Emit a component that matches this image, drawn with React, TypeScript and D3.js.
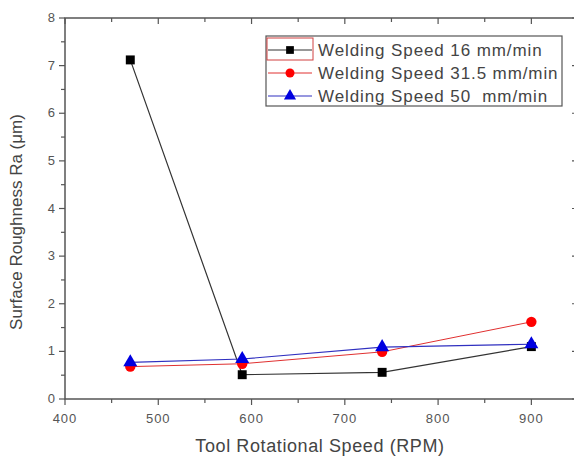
import React, { useEffect, useRef } from 'react';
import * as d3 from 'd3';

const rpm = [470, 590, 740, 900];
const speed16 = [7.12, 0.51, 0.56, 1.1];
const speed31 = [0.68, 0.74, 0.99, 1.62];
const speed50 = [0.77, 0.84, 1.09, 1.15];
const seriesNames = ['Welding Speed 16 mm/min', 'Welding Speed 31.5 mm/min', 'Welding Speed 50  mm/min'];
const xTicks = [400, 500, 600, 700, 800, 900];
const yTicks = [0, 1, 2, 3, 4, 5, 6, 7, 8];

const App = () => {
  const ref = useRef<SVGSVGElement>(null);
  const width = 574;
  const height = 459;

  useEffect(() => {
    const svg = d3.select(ref.current);
    svg.selectAll('*').remove();

    const x = d3.scaleLinear().domain([400, 950]).range([65, 578]);
    const y = d3.scaleLinear().domain([0, 8]).range([399, 18]);
    const axisColor = '#555';
    const font = 'Liberation Sans, Arial, sans-serif';

    // frame
    svg.append('rect')
      .attr('x', x(400)).attr('y', y(8))
      .attr('width', x(950) - x(400)).attr('height', y(0) - y(8))
      .attr('fill', 'none').attr('stroke', axisColor).attr('stroke-width', 1.5);

    // ticks: major + minor on all sides
    const minorX = d3.range(450, 950, 100);
    const minorY = d3.range(0.5, 8, 1);
    const g = svg.append('g').attr('stroke', axisColor).attr('stroke-width', 1.2);
    xTicks.concat([950]).forEach((v) => {
      g.append('line').attr('x1', x(v)).attr('x2', x(v)).attr('y1', y(0)).attr('y2', y(0) + 6);
      g.append('line').attr('x1', x(v)).attr('x2', x(v)).attr('y1', y(8)).attr('y2', y(8) + 6);
    });
    minorX.forEach((v) => {
      g.append('line').attr('x1', x(v)).attr('x2', x(v)).attr('y1', y(0)).attr('y2', y(0) + 4);
      g.append('line').attr('x1', x(v)).attr('x2', x(v)).attr('y1', y(8)).attr('y2', y(8) + 4);
    });
    yTicks.forEach((v) => {
      g.append('line').attr('x1', x(400) - 6).attr('x2', x(400)).attr('y1', y(v)).attr('y2', y(v));
      g.append('line').attr('x1', x(950) - 6).attr('x2', x(950)).attr('y1', y(v)).attr('y2', y(v));
    });
    minorY.forEach((v) => {
      g.append('line').attr('x1', x(400) - 4).attr('x2', x(400)).attr('y1', y(v)).attr('y2', y(v));
      g.append('line').attr('x1', x(950) - 4).attr('x2', x(950)).attr('y1', y(v)).attr('y2', y(v));
    });

    // tick labels
    svg.append('g').selectAll('text').data(xTicks).join('text')
      .attr('x', (d) => x(d)).attr('y', y(0) + 24)
      .attr('text-anchor', 'middle').attr('font-family', font).attr('font-size', 13)
      .attr('fill', '#555').attr('letter-spacing', 1).text((d) => d);
    svg.append('g').selectAll('text').data(yTicks).join('text')
      .attr('x', x(400) - 10).attr('y', (d) => y(d) + 4)
      .attr('text-anchor', 'end').attr('font-family', font).attr('font-size', 13)
      .attr('fill', '#555').text((d) => d);

    // axis titles
    svg.append('text')
      .attr('x', 320).attr('y', 452)
      .attr('text-anchor', 'middle').attr('font-family', font).attr('font-size', 18)
      .attr('letter-spacing', 0.6)
      .attr('fill', '#444').text('Tool Rotational Speed (RPM)');
    svg.append('text')
      .attr('transform', 'translate(22,222) rotate(-90)')
      .attr('text-anchor', 'middle').attr('font-family', font).attr('font-size', 17)
      .attr('fill', '#444').text('Surface Roughness Ra (\u03bcm)');

    const line = d3.line<number>().x((d, i) => x(rpm[i])).y((d) => y(d));
    const series = [
      { values: speed16, color: '#333', fill: '#000', shape: d3.symbolSquare, size: 80, width: 1.2 },
      { values: speed31, color: '#e03030', fill: '#f00', shape: d3.symbolCircle, size: 85, width: 1 },
      { values: speed50, color: '#3030c0', fill: '#0000e0', shape: d3.symbolTriangle, size: 85, width: 1.2 },
    ];

    series.forEach((s) => {
      svg.append('path').datum(s.values).attr('d', line)
        .attr('fill', 'none').attr('stroke', s.color).attr('stroke-width', s.width);
    });
    series.forEach((s) => {
      svg.append('g').selectAll('path').data(s.values).join('path')
        .attr('transform', (d, i) => `translate(${x(rpm[i])},${y(d)})`)
        .attr('d', d3.symbol().type(s.shape).size(s.size)())
        .attr('fill', s.fill);
    });

    // legend
    const leg = svg.append('g');
    leg.append('rect').attr('x', 266).attr('y', 36).attr('width', 296).attr('height', 70)
      .attr('fill', 'white').attr('stroke', '#555').attr('stroke-width', 1.2);
    series.forEach((s, i) => {
      const ly = 50 + i * 23;
      leg.append('line').attr('x1', 268).attr('x2', 312).attr('y1', ly).attr('y2', ly)
        .attr('stroke', s.color).attr('stroke-width', s.width);
      leg.append('path').attr('transform', `translate(290,${ly})`)
        .attr('d', d3.symbol().type(s.shape).size(s.size * 0.75)()).attr('fill', s.fill);
      leg.append('text').attr('x', 318).attr('y', ly + 6)
        .attr('font-family', font).attr('font-size', 17).attr('fill', '#444')
        .attr('letter-spacing', 0.9)
        .style('white-space', 'pre')
        .text(seriesNames[i]);
    });
    leg.append('rect').attr('x', 267).attr('y', 38).attr('width', 46).attr('height', 22)
      .attr('fill', 'none').attr('stroke', '#d04040').attr('stroke-width', 1);
  });

  return (
    <svg ref={ref} width={width} height={height}
      style={{ position: 'absolute', left: 0, top: 0, background: 'white' }} />
  );
};

export default App;
